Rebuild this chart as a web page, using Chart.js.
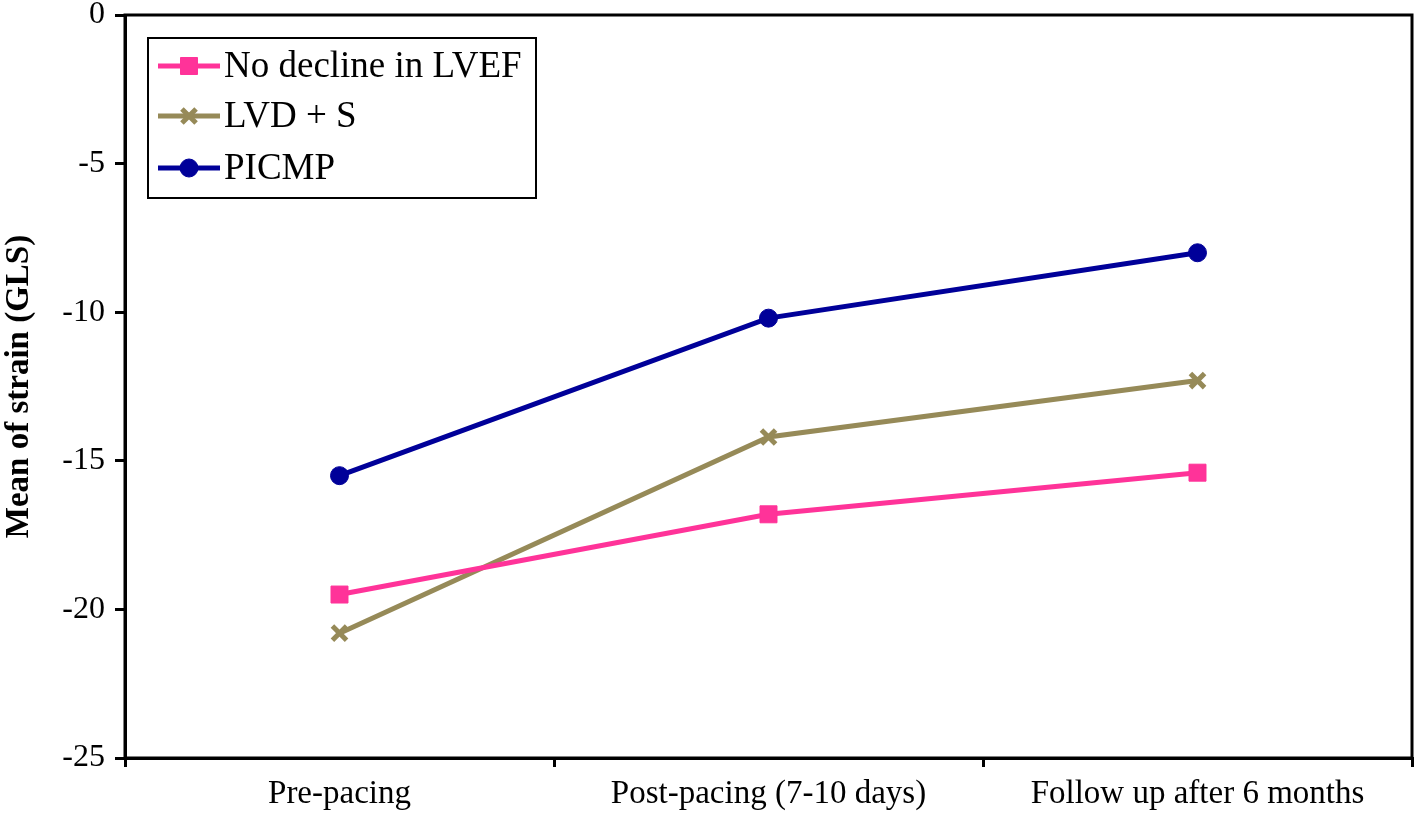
<!DOCTYPE html>
<html>
<head>
<meta charset="utf-8">
<script src="https://cdn.jsdelivr.net/npm/chart.js@4"></script>
<style>
  html, body { margin: 0; padding: 0; background: #fff; }
  #wrap { width: 1418px; height: 816px; }
</style>
</head>
<body>
<div id="wrap"><canvas id="graph" width="1418" height="816"></canvas></div>
<script>
const categories = ["Pre-pacing", "Post-pacing (7-10 days)", "Follow up after 6 months"];
const seriesNames = ["No decline in LVEF", "LVD + S", "PICMP"];
const noDecline = [-19.5, -16.8, -15.4];
const lvdS = [-20.8, -14.2, -12.3];
const picmp = [-15.5, -10.2, -8.0];
const yTicks = [0, -5, -10, -15, -20, -25];

const FONT = "'Liberation Serif', 'Times New Roman', serif";

// legend box drawn inside the plot, like the original
const boxLegend = {
  id: "boxLegend",
  afterDraw(chart) {
    const ctx = chart.ctx;
    const x0 = 148, y0 = 38, w = 388, h = 160;
    ctx.save();
    ctx.fillStyle = "#fff";
    ctx.fillRect(x0, y0, w, h);
    ctx.strokeStyle = "#000";
    ctx.lineWidth = 2;
    ctx.strokeRect(x0, y0, w, h);
    const rows = [66, 116, 168];
    chart.data.datasets.forEach((ds, i) => {
      const y = rows[i];
      ctx.strokeStyle = ds.borderColor;
      ctx.lineWidth = 5;
      ctx.beginPath();
      ctx.moveTo(158, y);
      ctx.lineTo(220, y);
      ctx.stroke();
      ctx.fillStyle = ds.backgroundColor;
      ctx.strokeStyle = ds.borderColor;
      ctx.lineWidth = ds.pointBorderWidth;
      Chart.helpers.drawPoint(ctx, {
        pointStyle: ds.pointStyle,
        radius: ds.pointRadius,
        borderWidth: ds.pointBorderWidth,
        rotation: 0
      }, 189, y);
      ctx.fillStyle = "#000";
      ctx.font = "37px " + FONT;
      ctx.textBaseline = "middle";
      ctx.textAlign = "left";
      ctx.fillText(ds.label, 224, y + 1);
    });
    ctx.restore();
  }
};

// black frame around the plot area
const frame = {
  id: "frame",
  beforeDatasetsDraw(chart) {
    const a = chart.chartArea, ctx = chart.ctx;
    ctx.save();
    ctx.strokeStyle = "#000";
    ctx.lineWidth = 3;
    ctx.strokeRect(a.left, a.top, a.right - a.left, a.bottom - a.top);
    ctx.restore();
  }
};

const ctx = document.getElementById("graph").getContext("2d");
const myChart = new Chart(ctx, {
  type: "line",
  data: {
    labels: categories,
    datasets: [
      {
        label: seriesNames[0],
        data: noDecline,
        borderColor: "#ff3399",
        backgroundColor: "#ff3399",
        pointStyle: "rect",
        pointRadius: 12,
        pointBorderWidth: 1,
        borderWidth: 5
      },
      {
        label: seriesNames[1],
        data: lvdS,
        borderColor: "#968a58",
        backgroundColor: "#968a58",
        pointStyle: "crossRot",
        pointRadius: 10,
        pointBorderWidth: 5,
        borderWidth: 5
      },
      {
        label: seriesNames[2],
        data: picmp,
        borderColor: "#000099",
        backgroundColor: "#000099",
        pointStyle: "circle",
        pointRadius: 9,
        pointBorderWidth: 1,
        borderWidth: 5
      }
    ]
  },
  options: {
    responsive: false,
    animation: false,
    layout: { autoPadding: false, padding: { top: 15, right: 6, left: 0, bottom: 0 } },
    plugins: {
      legend: { display: false },
      tooltip: { enabled: false }
    },
    scales: {
      x: {
        offset: true,
        grid: {
          offset: true,
          drawOnChartArea: false,
          color: "#000",
          lineWidth: 3,
          tickLength: 9
        },
        border: { display: true, color: "#000", width: 3 },
        ticks: {
          color: "#000",
          font: { family: FONT, size: 33 },
          padding: 8,
          maxRotation: 0
        },
        afterFit(scale) { scale.height = 58; }
      },
      y: {
        min: -25,
        max: 0,
        afterBuildTicks(scale) {
          scale.ticks = yTicks.map(v => ({ value: v }));
        },
        grid: {
          drawOnChartArea: false,
          color: "#000",
          lineWidth: 3,
          tickLength: 10
        },
        border: { display: true, color: "#000", width: 3 },
        ticks: {
          color: "#000",
          font: { family: FONT, size: 32, lineHeight: 0.95 },
          padding: 10
        },
        title: {
          display: true,
          text: "Mean of strain (GLS)",
          color: "#000",
          font: { family: FONT, size: 33, weight: "bold" },
          padding: { top: 0, bottom: 0 }
        },
        afterFit(scale) {
          scale.width = 125;
          scale.paddingTop = 0;
          scale.paddingBottom = 0;
        }
      }
    }
  },
  plugins: [frame, boxLegend]
});
</script>
</body>
</html>
